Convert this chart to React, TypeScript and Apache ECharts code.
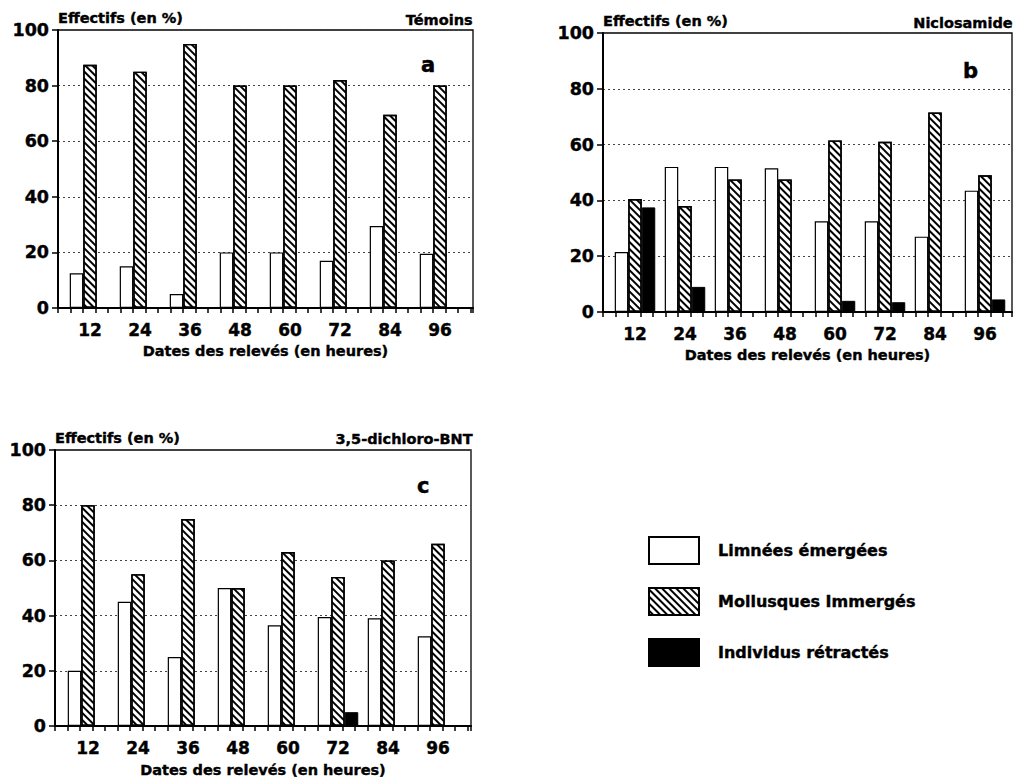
import React, { useEffect, useRef } from "react";
import * as echarts from "echarts";

const hours = ["12", "24", "36", "48", "60", "72", "84", "96"];
const yMin = 0;
const yMax = 100;
const yStep = 20;

const seriesNames = ["Limnées émergées", "Mollusques Immergés", "Individus rétractés"];

const temoinsEmergees = [12.5, 15, 5, 20, 20, 17, 29.5, 19.5];
const temoinsImmerges = [87.5, 85, 95, 80, 80, 82, 69.5, 80];
const temoinsRetractes = [0, 0, 0, 0, 0, 0, 0, 0];

const niclosamideEmergees = [21.5, 52, 52, 51.5, 32.5, 32.5, 27, 43.5];
const niclosamideImmerges = [40.5, 38, 47.5, 47.5, 61.5, 61, 71.5, 49];
const niclosamideRetractes = [37.5, 9, 0, 0, 4, 3.5, 0, 4.5];

const dichloroEmergees = [20, 45, 25, 50, 36.5, 39.5, 39, 32.5];
const dichloroImmerges = [80, 55, 75, 50, 63, 54, 60, 66];
const dichloroRetractes = [0, 0, 0, 0, 0, 5, 0, 0];

const yAxisTitle = "Effectifs (en %)";
const xAxisTitle = "Dates des relevés (en heures)";
const panelTitles = ["Témoins", "Niclosamide", "3,5-dichloro-BNT"];
const panelLetters = ["a", "b", "c"];

const FONT = '"DejaVu Sans", "Liberation Sans", sans-serif';

const hatch = {
  symbol: "rect",
  symbolSize: 1,
  dashArrayX: [1, 0],
  dashArrayY: [1.4, 2.4],
  rotation: Math.PI / 4,
  color: "#000",
  backgroundColor: "#fff",
};

const panels = [
  {
    box: { left: 58, top: 30, width: 415, height: 278 },
    bandLeft: 65,
    nameGap: 35,
    em: temoinsEmergees,
    im: temoinsImmerges,
    re: temoinsRetractes,
  },
  {
    box: { left: 603, top: 33, width: 409, height: 279 },
    bandLeft: 610,
    nameGap: 35,
    em: niclosamideEmergees,
    im: niclosamideImmerges,
    re: niclosamideRetractes,
  },
  {
    box: { left: 55, top: 450, width: 416, height: 276 },
    bandLeft: 63,
    nameGap: 36,
    em: dichloroEmergees,
    im: dichloroImmerges,
    re: dichloroRetractes,
  },
];

function buildOption() {
  const grid: any[] = [];
  const xAxis: any[] = [];
  const yAxis: any[] = [];
  const series: any[] = [];
  const bold = {
    fontFamily: FONT,
    fontWeight: "bold",
    color: "#000",
    textBorderColor: "#000",
    textBorderWidth: 0.4,
  };

  panels.forEach((p, i) => {
    const gBox = 2 * i;
    const gBand = 2 * i + 1;
    grid.push({
      left: p.box.left,
      top: p.box.top,
      width: p.box.width,
      height: p.box.height,
      show: true,
      borderColor: "#000",
      borderWidth: 1.3,
      backgroundColor: "transparent",
    });
    grid.push({
      left: p.bandLeft,
      top: p.box.top,
      width: 400,
      height: p.box.height,
    });
    xAxis.push({
      type: "value",
      gridIndex: gBox,
      min: 0,
      max: p.box.width / 12.5,
      interval: 1,
      axisLine: { show: true, lineStyle: { color: "#000", width: 2 } },
      axisTick: { show: true, length: 5, lineStyle: { color: "#000", width: 1.5 } },
      axisLabel: { show: false },
      splitLine: { show: false },
      name: xAxisTitle,
      nameLocation: "middle",
      nameGap: p.nameGap,
      nameTextStyle: { ...bold, fontSize: 14.5 },
    });
    xAxis.push({
      type: "category",
      gridIndex: gBand,
      data: hours,
      axisLine: { show: false },
      axisTick: { show: false },
      axisLabel: { ...bold, fontSize: 17, margin: 13 },
    });
    yAxis.push({
      type: "value",
      gridIndex: gBox,
      min: yMin,
      max: yMax,
      interval: yStep,
      axisLine: { show: true, lineStyle: { color: "#000", width: 2 } },
      axisTick: { show: true, length: 6, lineStyle: { color: "#000", width: 1.5 } },
      axisLabel: { ...bold, fontSize: 17.5, margin: 9 },
      splitLine: { show: true, lineStyle: { color: "#444", width: 1, type: [2, 3] } },
      name: yAxisTitle,
      nameLocation: "end",
      nameGap: 5,
      nameTextStyle: { ...bold, fontSize: 14.5, align: "left", verticalAlign: "bottom" },
    });
    yAxis.push({
      type: "value",
      gridIndex: gBand,
      min: yMin,
      max: yMax,
      show: false,
    });
    const common = {
      type: "bar",
      xAxisIndex: gBand,
      yAxisIndex: gBand,
      barWidth: 13.5,
      barGap: "0%",
    };
    series.push({
      ...common,
      name: seriesNames[0],
      data: p.em,
      itemStyle: { color: "#fff", borderColor: "#000", borderWidth: 1.2 },
    });
    series.push({
      ...common,
      name: seriesNames[1],
      data: p.im,
      itemStyle: { color: "#fff", borderColor: "#000", borderWidth: 1.4, decal: hatch },
    });
    series.push({
      ...common,
      name: seriesNames[2],
      data: p.re,
      itemStyle: { color: "#000", borderColor: "#000", borderWidth: 1 },
    });
  });

  const titleStyle = {
    fontFamily: FONT,
    fontWeight: "bold",
    color: "#000",
    fontSize: 14.5,
    textBorderColor: "#000",
    textBorderWidth: 0.4,
  };
  const letterStyle = {
    fontFamily: FONT,
    fontWeight: "bold",
    color: "#000",
    fontSize: 21,
    textBorderColor: "#000",
    textBorderWidth: 0.5,
  };
  const title = [
    { text: panelTitles[0], right: 1022 - 473, top: 12, padding: 0, textStyle: titleStyle },
    { text: panelTitles[1], right: 1022 - 1013, top: 15, padding: 0, textStyle: titleStyle },
    { text: panelTitles[2], right: 1022 - 473, top: 431, padding: 0, textStyle: titleStyle },
    { text: panelLetters[0], left: 421, top: 54, padding: 0, textStyle: letterStyle },
    { text: panelLetters[1], left: 963, top: 60, padding: 0, textStyle: letterStyle },
    { text: panelLetters[2], left: 417, top: 475, padding: 0, textStyle: letterStyle },
  ];

  return {
    animation: false,
    backgroundColor: "#fff",
    textStyle: { fontFamily: FONT },
    title,
    legend: {
      data: seriesNames,
      orient: "vertical",
      left: 648,
      top: 536,
      padding: 0,
      itemWidth: 50,
      itemHeight: 27,
      itemGap: 22,
      icon: "rect",
      textStyle: {
        fontFamily: FONT,
        fontWeight: "bold",
        fontSize: 16,
        color: "#000",
        textBorderColor: "#000",
        textBorderWidth: 0.4,
        padding: [0, 0, 0, 14],
      },
    },
    grid,
    xAxis,
    yAxis,
    series,
  };
}

export default function App() {
  const ref = useRef<HTMLDivElement>(null);
  useEffect(() => {
    if (!ref.current) return;
    const chart = echarts.init(ref.current, null, { renderer: "svg" });
    chart.setOption(buildOption() as any);
    return () => chart.dispose();
  }, []);
  return (
    <div
      ref={ref}
      style={{ position: "fixed", left: 0, top: 0, width: 1022, height: 782, background: "#fff" }}
    />
  );
}
